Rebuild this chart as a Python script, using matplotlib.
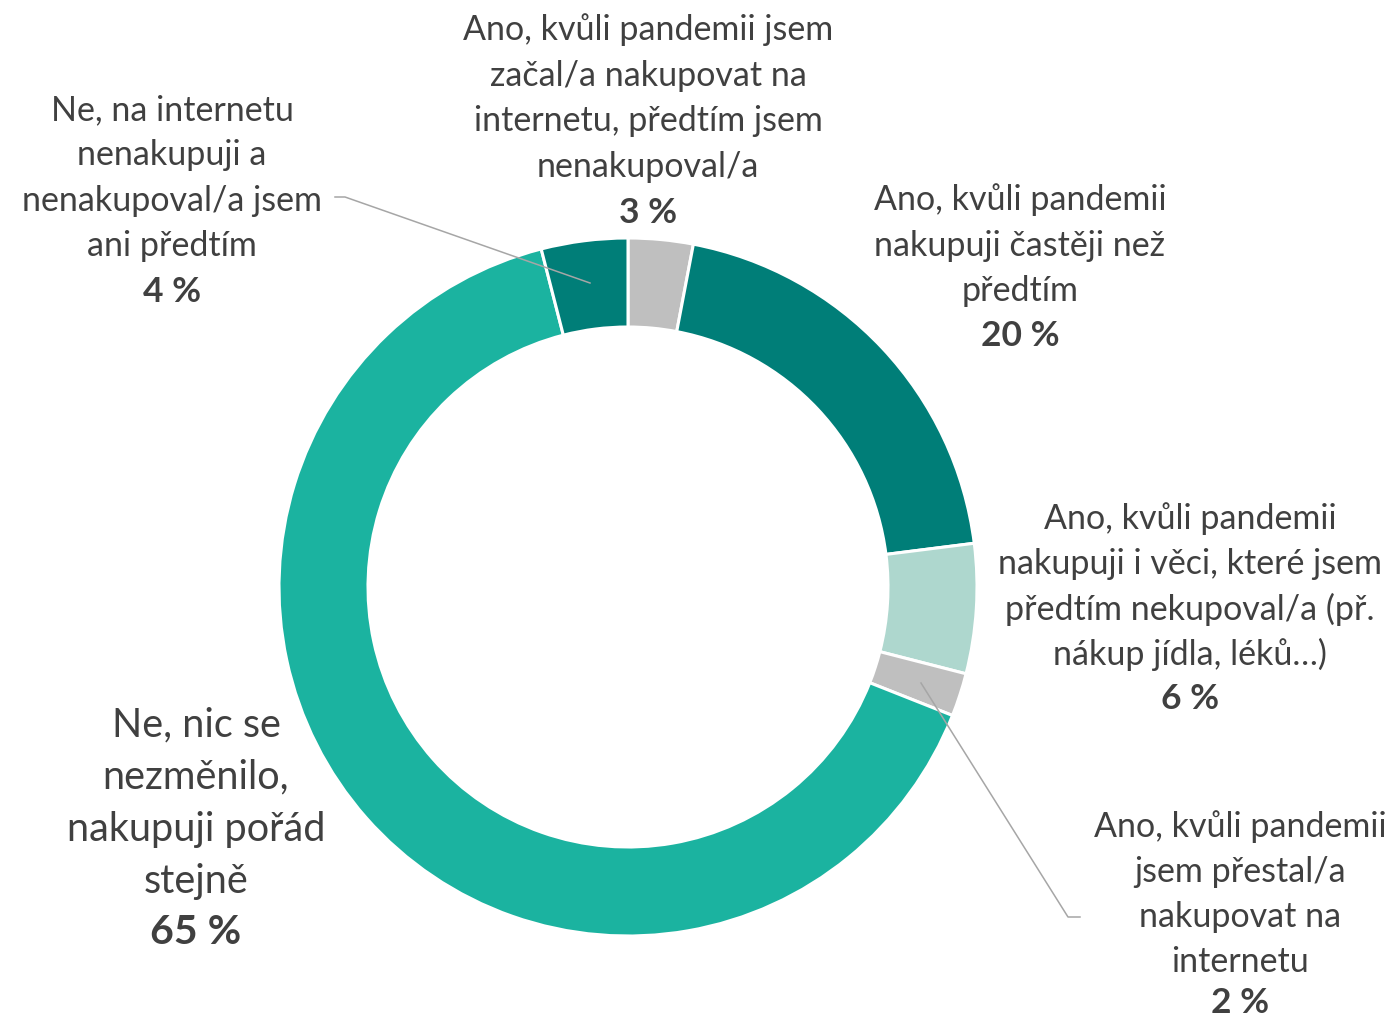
import matplotlib.pyplot as plt

plt.rcParams['font.family'] = ['Lato', 'DejaVu Sans']

# data, clockwise from 12 o'clock
labels = [
    "Ano, kvůli pandemii jsem\nzačal/a nakupovat na\ninternetu, předtím jsem\nnenakupoval/a",
    "Ano, kvůli pandemii\nnakupuji častěji než\npředtím",
    "Ano, kvůli pandemii\nnakupuji i věci, které jsem\npředtím nekupoval/a (př.\nnákup jídla, léků…)",
    "Ano, kvůli pandemii\njsem přestal/a\nnakupovat na\ninternetu",
    "Ne, nic se\nnezměnilo,\nnakupuji pořád\nstejně",
    "Ne, na internetu\nnenakupuji a\nnenakupoval/a jsem\nani předtím",
]
values = [3, 20, 6, 2, 65, 4]
colors = ['#BFBFBF', '#007E78', '#AED7CE', '#BFBFBF', '#1BB3A0', '#007E78']

W, H = 1396, 1022
TXT = '#404040'


def py(y):
    # pixel row from top -> data y
    return H - y


fig = plt.figure(figsize=(W / 100, H / 100), dpi=100)
ax = fig.add_axes([0, 0, 1, 1])
ax.set_xlim(0, W)
ax.set_ylim(0, H)
ax.axis('off')

ax.pie(values, colors=colors, startangle=90, counterclock=False,
       center=(628, py(587)), radius=349,
       wedgeprops=dict(width=89, edgecolor='white', linewidth=2.2))
ax.set_aspect('equal')
ax.set_xlim(0, W)
ax.set_ylim(0, H)

# label placement: (x center, first line y, line step, percent y, font size)
label_pos = [
    (648, 30, 45.6, 213, 24.5),
    (1020, 200, 45.5, 336, 24.5),
    (1190, 519, 45.3, 699, 24.5),
    (1240, 827, 45.0, 1003, 24.5),
    (196, 725, 52, 932, 28.5),
    (172, 110, 45.3, 292, 24.5),
]

for lab, v, (x, y0, step, yp, fs) in zip(labels, values, label_pos):
    for i, line in enumerate(lab.split('\n')):
        ax.text(x, py(y0 + i * step), line, ha='center', va='center',
                fontsize=fs, color=TXT)
    ax.text(x, py(yp), f'{v} %', ha='center', va='center',
            fontsize=fs + 1, fontweight='bold', color=TXT)

# leader lines
ax.plot([335, 345, 590], [py(197), py(197), py(283)], color='#A6A6A6', lw=1.1)
ax.plot([921, 1068, 1080], [py(683), py(917), py(917)], color='#A6A6A6', lw=1.1)

fig.savefig('out.png', dpi=100)
